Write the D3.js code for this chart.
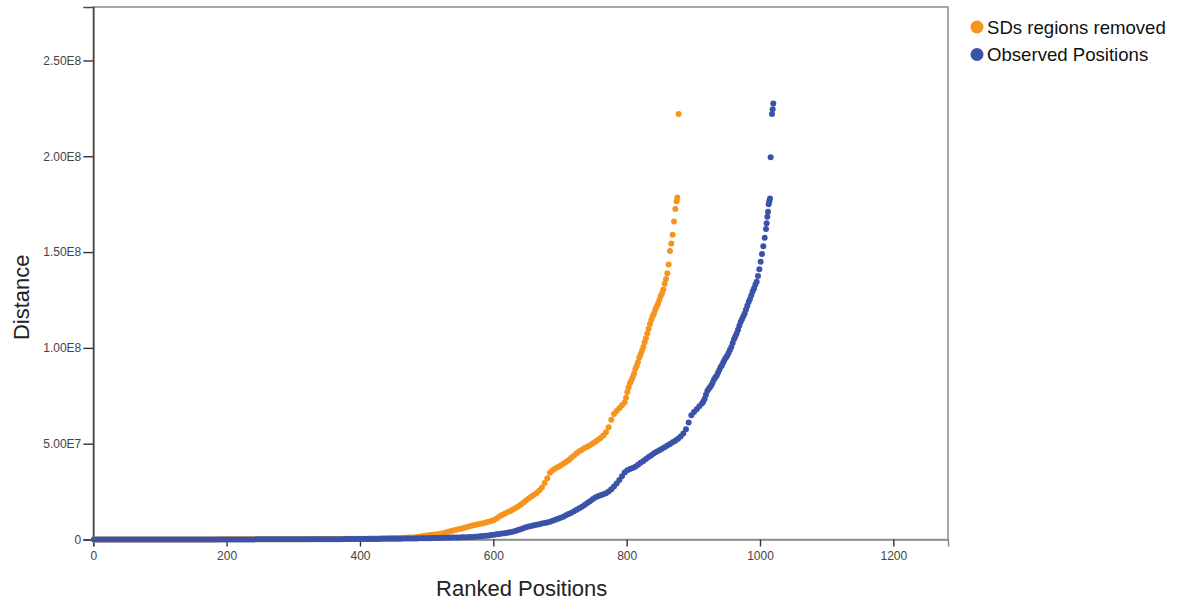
<!DOCTYPE html>
<html>
<head>
<meta charset="utf-8">
<script src="https://cdn.jsdelivr.net/npm/d3@7"></script>
<style>
  html, body { margin: 0; padding: 0; background: #fff; }
  svg { display: block; font-family: "Liberation Sans", Arial, sans-serif; }
</style>
</head>
<body>
<svg id="chart" width="1178" height="601"></svg>
<script>
// ---- data: ranked distances, in megabases ----
const seriesNames = ["SDs regions removed", "Observed Positions"];
const seriesColors = ["#F7941D", "#3A53A8"];

// SDs regions removed
const sdFlatStart = 1, sdFlatStep = 4;           // ranks 1..477
const sdFlat = [
  0, 0, 0, 0, 0, 0, 0, 0, 0, 0,
  0, 0, 0.01, 0.01, 0.01, 0.01, 0.01, 0.01, 0.01, 0.01,
  0.02, 0.02, 0.02, 0.02, 0.02, 0.02, 0.02, 0.03, 0.03, 0.03,
  0.03, 0.03, 0.03, 0.04, 0.04, 0.04, 0.04, 0.04, 0.05, 0.05,
  0.05, 0.05, 0.05, 0.06, 0.06, 0.06, 0.06, 0.07, 0.07, 0.07,
  0.07, 0.08, 0.08, 0.08, 0.08, 0.09, 0.09, 0.09, 0.1, 0.1,
  0.1, 0.1, 0.11, 0.11, 0.11, 0.12, 0.12, 0.12, 0.13, 0.13,
  0.14, 0.14, 0.15, 0.15, 0.16, 0.16, 0.17, 0.17, 0.18, 0.18,
  0.19, 0.19, 0.2, 0.21, 0.22, 0.22, 0.23, 0.24, 0.25, 0.26,
  0.27, 0.28, 0.29, 0.3, 0.31, 0.33, 0.34, 0.36, 0.37, 0.39,
  0.41, 0.43, 0.45, 0.47, 0.5, 0.52, 0.55, 0.58, 0.61, 0.64,
  0.68, 0.72, 0.76, 0.8, 0.84, 0.88, 0.92, 0.96, 1.0, 1.05
];
const sdRiseStart = 481, sdRiseStep = 4;         // ranks 481..797
const sdRise = [
  1.1, 1.3, 1.5, 1.7, 1.9, 2.1, 2.3, 2.5, 2.6, 2.8,
  3.0, 3.3, 3.7, 4.1, 4.5, 4.8, 5.1, 5.5, 5.8, 6.1,
  6.5, 6.9, 7.3, 7.6, 7.9, 8.2, 8.5, 8.9, 9.3, 9.7,
  10.2, 11.0, 12.0, 12.8, 13.5, 14.2, 14.8, 15.5, 16.3, 17.2,
  18.2, 19.2, 20.3, 21.4, 22.4, 23.3, 24.3, 25.6, 27.2, 29.5,
  32.0, 34.8, 36.2, 37.0, 37.8, 38.6, 39.5, 40.4, 41.4, 42.6,
  43.8, 45.0, 46.0, 46.9, 47.7, 48.4, 49.2, 50.1, 51.0, 52.0,
  53.0, 54.3, 56.0, 58.6, 62.5, 65.5, 67.0, 68.5, 70.0, 71.5
];
const sdTailRanks = [
  799, 801, 803, 805, 807, 809, 811, 813, 815, 817,
  819, 821, 823, 825, 827, 829, 831, 833, 835, 837,
  839, 841, 843, 845, 847, 849, 851, 853, 855, 857,
  859, 861, 863, 865, 867, 869, 871, 873, 875, 876, 878
];
const sdTail = [
  74, 77, 79.5, 81.5, 83, 84.5, 86.5, 89, 90.5, 92.5,
  95, 96.5, 98.5, 100.5, 103, 105, 107.5, 110, 112.5, 114.5,
  116.5, 118, 120, 121.5, 123, 125, 127, 128.5, 130.5, 133.5,
  136, 139, 143.5, 150.5, 154.5, 159, 166, 172.5, 176.5, 178.5, 222
];

// Observed Positions
const obsFlatStart = 1, obsFlatStep = 4;         // ranks 1..561
const obsFlat = [
  0, 0, 0, 0, 0, 0, 0, 0, 0, 0,
  0, 0, 0, 0, 0, 0, 0, 0, 0, 0,
  0, 0, 0, 0.01, 0.01, 0.01, 0.01, 0.01, 0.01, 0.01,
  0.01, 0.01, 0.02, 0.02, 0.02, 0.02, 0.02, 0.02, 0.02, 0.02,
  0.03, 0.03, 0.03, 0.03, 0.03, 0.03, 0.04, 0.04, 0.04, 0.04,
  0.04, 0.04, 0.05, 0.05, 0.05, 0.05, 0.05, 0.06, 0.06, 0.06,
  0.06, 0.07, 0.07, 0.07, 0.07, 0.08, 0.08, 0.08, 0.09, 0.09,
  0.09, 0.09, 0.1, 0.1, 0.1, 0.11, 0.11, 0.12, 0.12, 0.12,
  0.13, 0.13, 0.14, 0.14, 0.15, 0.15, 0.16, 0.16, 0.17, 0.17,
  0.18, 0.18, 0.19, 0.19, 0.2, 0.21, 0.22, 0.22, 0.23, 0.24,
  0.25, 0.26, 0.27, 0.28, 0.29, 0.3, 0.31, 0.32, 0.33, 0.35,
  0.36, 0.38, 0.39, 0.41, 0.43, 0.45, 0.47, 0.49, 0.51, 0.53,
  0.55, 0.57, 0.6, 0.62, 0.65, 0.68, 0.71, 0.74, 0.77, 0.8,
  0.83, 0.87, 0.9, 0.94, 0.98, 1.02, 1.06, 1.1, 1.14, 1.18,
  1.22
];
const obsRiseStart = 565, obsRiseStep = 4;       // ranks 565..913
const obsRise = [
  1.25, 1.35, 1.45, 1.55, 1.7, 1.85, 2.0, 2.15, 2.3, 2.5,
  2.7, 2.9, 3.1, 3.3, 3.5, 3.75, 4.0, 4.4, 4.9, 5.4,
  5.9, 6.4, 6.8, 7.1, 7.4, 7.7, 8.0, 8.3, 8.6, 8.9,
  9.3, 9.8, 10.3, 10.8, 11.3, 11.9, 12.6, 13.3, 14.0, 14.7,
  15.5, 16.3, 17.1, 18.0, 19.0, 20.0, 21.0, 21.9, 22.6, 23.1,
  23.6, 24.2, 25.0, 26.2, 27.6, 29.2, 31.0, 33.0, 35.0, 36.2,
  36.8, 37.3, 38.0, 39.0, 40.0, 41.0, 42.0, 43.0, 44.0, 45.0,
  45.8, 46.6, 47.4, 48.2, 49.0, 49.8, 50.7, 51.6, 52.6, 53.8,
  55.3, 57.5, 61.0, 64.8, 66.5, 68.0, 69.5, 71.0
];
const obsTailRanks = [
  915, 917, 919, 921, 923, 925, 927, 929, 931, 933,
  935, 937, 939, 941, 943, 945, 947, 949, 951, 953,
  955, 957, 959, 961, 963, 965, 967, 969, 971, 973,
  975, 977, 979, 981, 983, 985, 987, 989, 991, 993,
  995, 997, 999, 1001, 1003, 1005, 1007, 1009, 1010, 1011,
  1012, 1013, 1014, 1015, 1016, 1018, 1019, 1020
];
const obsTail = [
  72, 73.5, 75.5, 77.5, 78.5, 79.5, 80.5, 82, 83.5, 84.5,
  85.5, 87, 88.5, 90, 91, 92.5, 94, 95, 96, 97.5,
  99, 100.5, 102.5, 104.5, 106, 107.5, 109.5, 111.5, 113.5, 115,
  116.5, 118, 120, 122, 124, 125.5, 127.5, 129.5, 131, 133,
  134.5, 137.5, 141, 145, 149, 153, 157.5, 162, 165, 168.5,
  171, 175, 176.5, 178, 199.5, 222, 224.5, 227.5
];

// axis ticks
const xTickValues = [0, 200, 400, 600, 800, 1000, 1200];
const yTickValues = [0, 5e7, 1e8, 1.5e8, 2e8, 2.5e8];
const yTickLabels = ["0", "5.00E7", "1.00E8", "1.50E8", "2.00E8", "2.50E8"];

// ---- assemble points ----
function stepped(start, step, values) {
  return values.map((v, i) => ({ rank: start + i * step, dist: v * 1e6 }));
}
function paired(ranks, values) {
  return values.map((v, i) => ({ rank: ranks[i], dist: v * 1e6 }));
}
const sdPoints = [].concat(
  stepped(sdFlatStart, sdFlatStep, sdFlat),
  stepped(sdRiseStart, sdRiseStep, sdRise),
  paired(sdTailRanks, sdTail)
);
const obsPoints = [].concat(
  stepped(obsFlatStart, obsFlatStep, obsFlat),
  stepped(obsRiseStart, obsRiseStep, obsRise),
  paired(obsTailRanks, obsTail)
);

// ---- layout ----
const svg = d3.select("#chart");
const plot = { left: 93.3, top: 7, right: 948, bottom: 539.5 };

const x = d3.scaleLinear().domain([0, 1282]).range([plot.left, plot.right]);
const y = d3.scaleLinear().domain([0, 2.779e8]).range([plot.bottom, plot.top]);

// frame
svg.append("rect")
  .attr("x", plot.left).attr("y", plot.top)
  .attr("width", plot.right - plot.left)
  .attr("height", plot.bottom - plot.top)
  .attr("fill", "none")
  .attr("stroke", "#8c8c8c")
  .attr("stroke-width", 1.5);

// y axis
const yAxis = d3.axisLeft(y)
  .tickValues(yTickValues)
  .tickFormat((d, i) => yTickLabels[i])
  .tickSize(10)
  .tickPadding(2);
const gy = svg.append("g")
  .attr("transform", `translate(${plot.left},0)`)
  .call(yAxis);
gy.select(".domain").attr("stroke", "#4a4a4a").attr("stroke-width", 1.6);
gy.selectAll(".tick line").attr("stroke", "#333").attr("stroke-width", 1.4);
gy.selectAll(".tick text")
  .attr("fill", "#444")
  .style("font-size", "12px");

// x axis
const xAxis = d3.axisBottom(x)
  .tickValues(xTickValues)
  .tickFormat(d3.format("d"))
  .tickSize(7)
  .tickPadding(5);
const gx = svg.append("g")
  .attr("transform", `translate(0,${plot.bottom})`)
  .call(xAxis);
gx.select(".domain").attr("stroke", "#8c8c8c").attr("stroke-width", 1.5);
gx.selectAll(".tick line").attr("stroke", "#333").attr("stroke-width", 1.4);
gx.selectAll(".tick text")
  .attr("fill", "#444")
  .style("font-size", "12px");

// axis titles
svg.append("text")
  .attr("x", (plot.left + plot.right) / 2 + 1)
  .attr("y", 596)
  .attr("text-anchor", "middle")
  .attr("fill", "#222")
  .style("font-size", "22px")
  .text("Ranked Positions");

svg.append("text")
  .attr("transform", `translate(29,${(plot.top + plot.bottom) / 2 + 24}) rotate(-90)`)
  .attr("text-anchor", "middle")
  .attr("fill", "#222")
  .style("font-size", "22px")
  .text("Distance");

// points: orange first, blue drawn on top
const dotR = 3;
[sdPoints, obsPoints].forEach((pts, si) => {
  svg.append("g")
    .selectAll("circle")
    .data(pts)
    .join("circle")
    .attr("cx", d => x(d.rank))
    .attr("cy", d => y(d.dist))
    .attr("r", dotR)
    .attr("fill", seriesColors[si]);
});

// legend
const legend = svg.append("g").attr("transform", "translate(977,27)");
seriesNames.forEach((name, i) => {
  const row = legend.append("g").attr("transform", `translate(0,${i * 27.5})`);
  row.append("circle").attr("r", 6.5).attr("fill", seriesColors[i]);
  row.append("text")
    .attr("x", 10)
    .attr("dy", "0.36em")
    .attr("fill", "#111")
    .style("font-size", "18.6px")
    .text(name);
});
</script>
</body>
</html>
